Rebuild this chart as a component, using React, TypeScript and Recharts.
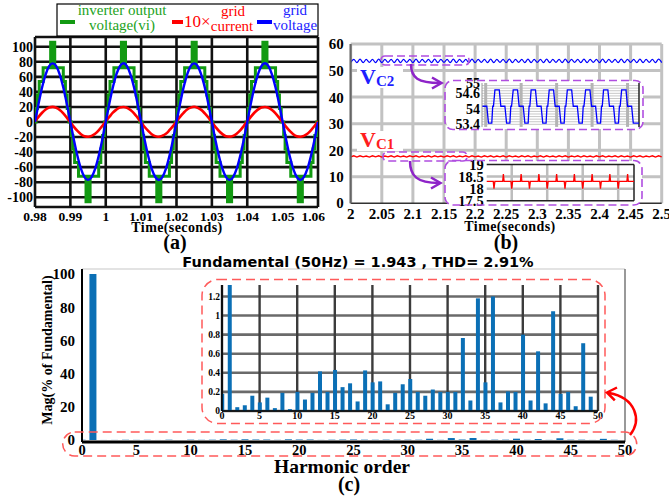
import React from "react";
import {
  LineChart,
  Line,
  BarChart,
  Bar,
  XAxis,
  YAxis,
  CartesianGrid,
  ReferenceArea,
  ReferenceLine,
} from "recharts";

const SERIF = "'Liberation Serif', 'Times New Roman', serif";
const SANS = "'DejaVu Sans', Verdana, sans-serif";
const GREEN = "#129a12";
const RED = "#ff0000";
const BLUE = "#0000ff";
const PURPLE = "#b04ee0";
const ARROW_PURPLE = "#8e24c8";
const BAR_BLUE = "#0b6fb5";

// ---------- (a) inverter output / grid waveforms ----------
const timeA = [
  0.98, 0.981, 0.982, 0.983, 0.984, 0.985, 0.986, 0.987, 0.988, 0.989,
  0.99, 0.991, 0.992, 0.993, 0.994, 0.995, 0.996, 0.997, 0.998, 0.999,
  1, 1.001, 1.002, 1.003, 1.004, 1.005, 1.006, 1.007, 1.008, 1.009,
  1.01, 1.011, 1.012, 1.013, 1.014, 1.015, 1.016, 1.017, 1.018, 1.019,
  1.02, 1.021, 1.022, 1.023, 1.024, 1.025, 1.026, 1.027, 1.028, 1.029,
  1.03, 1.031, 1.032, 1.033, 1.034, 1.035, 1.036, 1.037, 1.038, 1.039,
  1.04, 1.041, 1.042, 1.043, 1.044, 1.045, 1.046, 1.047, 1.048, 1.049,
  1.05, 1.051, 1.052, 1.053, 1.054, 1.055, 1.056, 1.057, 1.058, 1.059,
  1.06,
];
const gridVoltage = [
  0, 24.1, 45.9, 63.1, 74.2, 78, 74.2, 63.1, 45.9, 24.1,
  0, -23.8, -45.3, -62.3, -73.2, -77, -73.2, -62.3, -45.3, -23.8,
  0.3, 24.2, 45.8, 63.2, 74.1, 78.1, 74.3, 63, 45.8, 24,
  0.1, -23.9, -45.2, -62.4, -73.1, -77.1, -73.3, -62.2, -45.4, -23.7,
  0.2, 24.1, 46, 63.1, 74.2, 78, 74.1, 63.1, 45.9, 24.2,
  0, -23.8, -45.3, -62.3, -73.2, -77, -73.2, -62.4, -45.2, -23.8,
  0.1, 24.2, 45.9, 63, 74.3, 78.1, 74.2, 63.1, 45.8, 24.1,
  0.2, -23.7, -45.4, -62.3, -73.1, -77.1, -73.2, -62.3, -45.3, -23.9,
  0,
];
const gridCurrent10x = [
  0.8, 6.9, 12.3, 16.6, 19.2, 20.1, 18.9, 16.0, 11.5, 5.8,
  -0.4, -6.5, -11.9, -16.2, -18.9, -19.6, -18.4, -15.6, -11.0, -5.4,
  0.9, 6.7, 12.4, 16.5, 19.3, 20.0, 19.0, 15.9, 11.6, 5.7,
  -0.3, -6.6, -11.8, -16.3, -18.8, -19.7, -18.3, -15.7, -10.9, -5.5,
  0.7, 6.8, 12.2, 16.7, 19.1, 20.2, 18.8, 16.1, 11.4, 5.9,
  -0.5, -6.4, -12.0, -16.1, -19.0, -19.5, -18.5, -15.5, -11.1, -5.3,
  0.8, 6.9, 12.3, 16.5, 19.2, 20.0, 19.0, 15.9, 11.5, 5.8,
  -0.4, -6.5, -11.9, -16.2, -18.9, -19.6, -18.4, -15.6, -11.0, -5.4,
  0.8,
];
// staircase of the multilevel output (switch instants and levels)
const stairTime = [
  0.98, 0.9803, 0.9807, 0.9812, 0.9823, 0.988, 0.9886, 0.9891, 0.9896,
  0.9903, 0.9907, 0.9912, 0.9923, 0.998, 0.9986, 0.9991, 0.9996,
  1.0003, 1.0007, 1.0012, 1.0023, 1.008, 1.0086, 1.0091, 1.0096,
  1.0103, 1.0107, 1.0112, 1.0123, 1.018, 1.0186, 1.0191, 1.0196,
  1.0203, 1.0207, 1.0212, 1.0223, 1.028, 1.0286, 1.0291, 1.0296,
  1.0303, 1.0307, 1.0312, 1.0323, 1.038, 1.0386, 1.0391, 1.0396,
  1.0403, 1.0407, 1.0412, 1.0423, 1.048, 1.0486, 1.0491, 1.0496,
  1.0503, 1.0507, 1.0512, 1.0523, 1.058, 1.0586, 1.0591, 1.0596,
  1.06,
];
const stairLevel = [
  0, 18, 36, 54, 72, 54, 36, 18, 0,
  -18, -36, -54, -72, -54, -36, -18, 0,
  18, 36, 54, 72, 54, 36, 18, 0,
  -18, -36, -54, -72, -54, -36, -18, 0,
  18, 36, 54, 72, 54, 36, 18, 0,
  -18, -36, -54, -72, -54, -36, -18, 0,
  18, 36, 54, 72, 54, 36, 18, 0,
  -18, -36, -54, -72, -54, -36, -18, 0,
  0,
];
// PWM bands at the crest of each half cycle
const pwmFrom = [0.984, 0.994, 1.004, 1.014, 1.024, 1.034, 1.044, 1.054];
const pwmTo = [0.986, 0.996, 1.006, 1.016, 1.026, 1.036, 1.046, 1.056];
const pwmLow = [72, -72, 72, -72, 72, -72, 72, -72];
const pwmHigh = [108, -108, 108, -108, 108, -108, 108, -108];
const timeTicksA = [0.98, 0.99, 1, 1.01, 1.02, 1.03, 1.04, 1.05, 1.06];
const voltTicksA = [-100, -80, -60, -40, -20, 0, 20, 40, 60, 80, 100];

// ---------- (b) capacitor voltages ----------
const timeB = [
  2, 2.005, 2.01, 2.015, 2.02, 2.025, 2.03, 2.035, 2.04, 2.045,
  2.05, 2.055, 2.06, 2.065, 2.07, 2.075, 2.08, 2.085, 2.09, 2.095,
  2.1, 2.105, 2.11, 2.115, 2.12, 2.125, 2.13, 2.135, 2.14, 2.145,
  2.15, 2.155, 2.16, 2.165, 2.17, 2.175, 2.18, 2.185, 2.19, 2.195,
  2.2, 2.205, 2.21, 2.215, 2.22, 2.225, 2.23, 2.235, 2.24, 2.245,
  2.25, 2.255, 2.26, 2.265, 2.27, 2.275, 2.28, 2.285, 2.29, 2.295,
  2.3, 2.305, 2.31, 2.315, 2.32, 2.325, 2.33, 2.335, 2.34, 2.345,
  2.35, 2.355, 2.36, 2.365, 2.37, 2.375, 2.38, 2.385, 2.39, 2.395,
  2.4, 2.405, 2.41, 2.415, 2.42, 2.425, 2.43, 2.435, 2.44, 2.445,
  2.45, 2.455, 2.46, 2.465, 2.47, 2.475, 2.48, 2.485, 2.49, 2.495,
  2.5,
];
const vc2 = [
  53.1, 54.2, 53.0, 54.3, 53.0, 54.2, 53.1, 54.2, 53.0, 54.3,
  53.0, 54.2, 53.1, 54.2, 53.0, 54.3, 53.0, 54.2, 53.1, 54.2,
  53.0, 54.3, 53.0, 54.2, 53.1, 54.2, 53.0, 54.3, 53.0, 54.2,
  53.1, 54.2, 53.0, 54.3, 53.0, 54.2, 53.1, 54.2, 53.0, 54.3,
  53.0, 54.2, 53.1, 54.2, 53.0, 54.3, 53.0, 54.2, 53.1, 54.2,
  53.0, 54.3, 53.0, 54.2, 53.1, 54.2, 53.0, 54.3, 53.0, 54.2,
  53.1, 54.2, 53.0, 54.3, 53.0, 54.2, 53.1, 54.2, 53.0, 54.3,
  53.0, 54.2, 53.1, 54.2, 53.0, 54.3, 53.0, 54.2, 53.1, 54.2,
  53.0, 54.3, 53.0, 54.2, 53.1, 54.2, 53.0, 54.3, 53.0, 54.2,
  53.1, 54.2, 53.0, 54.3, 53.0, 54.2, 53.1, 54.2, 53.0, 54.3,
  53.0,
];
const vc1 = [
  17.5, 17.9, 17.4, 17.9, 17.5, 17.8, 17.4, 17.9, 17.5, 17.9,
  17.4, 17.8, 17.5, 17.9, 17.4, 17.9, 17.5, 17.8, 17.4, 17.9,
  17.5, 17.9, 17.4, 17.8, 17.5, 17.9, 17.4, 17.9, 17.5, 17.8,
  17.4, 17.9, 17.5, 17.9, 17.4, 17.8, 17.5, 17.9, 17.4, 17.9,
  17.5, 17.8, 17.4, 17.9, 17.5, 17.9, 17.4, 17.8, 17.5, 17.9,
  17.4, 17.9, 17.5, 17.8, 17.4, 17.9, 17.5, 17.9, 17.4, 17.8,
  17.5, 17.9, 17.4, 17.9, 17.5, 17.8, 17.4, 17.9, 17.5, 17.9,
  17.4, 17.8, 17.5, 17.9, 17.4, 17.9, 17.5, 17.8, 17.4, 17.9,
  17.5, 17.9, 17.4, 17.8, 17.5, 17.9, 17.4, 17.9, 17.5, 17.8,
  17.4, 17.9, 17.5, 17.9, 17.4, 17.8, 17.5, 17.9, 17.4, 17.9,
  17.5,
];
const timeTicksB = [2, 2.05, 2.1, 2.15, 2.2, 2.25, 2.3, 2.35, 2.4, 2.45, 2.5];
const capTicksB = [10, 20, 30, 40, 50, 60];
const capBase = 0;

// zoomed VC2 ripple (time in ms inside the zoom window)
const vc2ZoomTime = [
  0, 2.6, 3.5, 5.3, 5.8, 6.2,
  7.0, 9.35, 10.2, 12.4, 13.3, 15.1, 15.6, 16.0,
  16.9, 19.25, 20.1, 22.3, 23.2, 25.0, 25.5, 25.9,
  26.6, 28.95, 29.8, 32.0, 32.9, 34.7, 35.2, 35.6,
  36.4, 38.75, 39.6, 41.8, 42.7, 44.5, 45.0, 45.4,
  46.2, 48.55, 49.4, 51.6, 52.5, 54.3, 54.8, 55.2,
  56.1, 58.45, 59.3, 61.5, 62.4, 64.2, 64.7, 65.1,
  65.8, 68.15, 69.0, 71.2, 72.1, 73.9, 74.4, 74.8,
  75.6, 77.95, 78.8, 81.0, 81.9, 85,
];
const vc2ZoomValue = [
  54.1, 54.1, 53.45, 53.45, 54.1, 54.1,
  54.73, 54.73, 54.1, 54.1, 53.45, 53.45, 54.1, 54.1,
  54.73, 54.73, 54.1, 54.1, 53.45, 53.45, 54.1, 54.1,
  54.73, 54.73, 54.1, 54.1, 53.45, 53.45, 54.1, 54.1,
  54.73, 54.73, 54.1, 54.1, 53.45, 53.45, 54.1, 54.1,
  54.73, 54.73, 54.1, 54.1, 53.45, 53.45, 54.1, 54.1,
  54.73, 54.73, 54.1, 54.1, 53.45, 53.45, 54.1, 54.1,
  54.73, 54.73, 54.1, 54.1, 53.45, 53.45, 54.1, 54.1,
  54.73, 54.73, 54.1, 54.1, 53.45, 53.45,
];
const vc2ZoomTicks = [53.4, 54, 54.6, 55];
const vc2ZoomFineGrid = [
  53.4, 53.5, 53.6, 53.7, 53.8, 53.9, 54, 54.1, 54.2, 54.3, 54.4, 54.5, 54.6, 54.7, 54.8, 54.9,
];
const vc2ZoomBars = [2, 11.6, 21.2, 30.8, 40.4, 50, 59.6, 69.2, 78.8];

// zoomed VC1 ripple
const vc1ZoomTime = [
  0,
  3.7, 4.1, 4.6, 9.0, 9.4, 9.8,
  13.7, 14.1, 14.6, 19.0, 19.4, 19.8,
  23.7, 24.1, 24.6, 29.0, 29.4, 29.8,
  33.7, 34.1, 34.6, 39.0, 39.4, 39.8,
  43.7, 44.1, 44.6, 49.0, 49.4, 49.8,
  53.7, 54.1, 54.6, 59.0, 59.4, 59.8,
  63.7, 64.1, 64.6, 69.0, 69.4, 69.8,
  73.7, 74.1, 74.6, 79.0, 79.4, 79.8,
  83,
];
const vc1ZoomValue = [
  18.3,
  18.3, 18.0, 18.3, 18.3, 18.6, 18.3,
  18.3, 18.0, 18.3, 18.3, 18.6, 18.3,
  18.3, 18.0, 18.3, 18.3, 18.6, 18.3,
  18.3, 18.0, 18.3, 18.3, 18.6, 18.3,
  18.3, 18.0, 18.3, 18.3, 18.6, 18.3,
  18.3, 18.0, 18.3, 18.3, 18.6, 18.3,
  18.3, 18.0, 18.3, 18.3, 18.6, 18.3,
  18.3, 18.0, 18.3, 18.3, 18.6, 18.3,
  18.3,
];
const vc1ZoomTicks = [17.5, 18, 18.5, 19];
const vc1ZoomBars = [4.1, 14.1, 24.1, 34.1, 44.1, 54.1, 64.1, 74.1];

// ---------- (c) harmonic spectrum ----------
const harmonicOrder = [
  0, 1, 2, 3, 4, 5, 6, 7, 8, 9,
  10, 11, 12, 13, 14, 15, 16, 17, 18, 19,
  20, 21, 22, 23, 24, 25, 26, 27, 28, 29,
  30, 31, 32, 33, 34, 35, 36, 37, 38, 39,
  40, 41, 42, 43, 44, 45, 46, 47, 48, 49,
];
const harmonicMag = [
  0.18, 100, 0.04, 0.06, 0.16, 0.09, 0.14, 0.03, 0.19, 0.02,
  0.2, 0.12, 0.19, 0.415, 0.2, 0.43, 0.25, 0.29, 0.1, 0.425,
  0.3, 0.31, 0.07, 0.19, 0.28, 0.335, 0.2, 0.16, 0.225, 0.2,
  0.2, 0.2, 0.765, 0.11, 1.18, 0.3, 1.2, 0.09, 0.205, 0.2,
  0.8, 0.11, 0.625, 0.08, 1.045, 0.18, 0.2, 0.05, 0.71, 0.15,
];
const orderTicks = [0, 5, 10, 15, 20, 25, 30, 35, 40, 45, 50];
const magTicks = [0, 20, 40, 60, 80, 100];
const zoomMagTicks = [0, 0.2, 0.4, 0.6, 0.8, 1, 1.2];

// rows for the library
const waveRows = timeA.map((t, i) => ({ t, vg: gridVoltage[i], ig: gridCurrent10x[i] }));
const stairRows = stairTime.map((t, i) => ({ t, v: stairLevel[i] }));
const capRows = timeB.map((t, i) => ({ t, vc2: vc2[i], vc1: vc1[i] }));
const vc2ZoomRows = vc2ZoomTime.map((t, i) => ({ t, v: vc2ZoomValue[i] }));
const vc1ZoomRows = vc1ZoomTime.map((t, i) => ({ t, v: vc1ZoomValue[i] }));
const spectrumRows = harmonicOrder.map((h, i) => ({ h, mag: harmonicMag[i] }));

const boldTick = (size: number) => ({
  fill: "#000",
  fontSize: size,
  fontFamily: SERIF,
  fontWeight: 700,
});

// plain svg tick label, right aligned against a y axis
function ValueTick(props: any) {
  const { x, y, payload, size } = props;
  return (
    <text
      x={x}
      y={y}
      dy="0.36em"
      textAnchor="end"
      fill="#000"
      fontFamily={SERIF}
      fontWeight={700}
      fontSize={size}
    >
      {String(payload.value)}
    </text>
  );
}

function box(left: number, top: number, extra: React.CSSProperties = {}): React.CSSProperties {
  return { position: "absolute", left, top, ...extra };
}

function WaveformPanel() {
  return (
    <div style={box(0, 0)}>
      <LineChart width={325} height={250} margin={{ top: 37, right: 7, bottom: 0, left: 0 }}>
        <CartesianGrid
          stroke="#111"
          strokeWidth={2.6}
          horizontalValues={[-113, ...voltTicksA, 113]}
          verticalValues={timeTicksA}
        />
        <XAxis
          type="number"
          dataKey="t"
          domain={[0.98, 1.06]}
          ticks={timeTicksA}
          height={43}
          axisLine={false}
          tickLine={false}
          tickSize={0}
          tickMargin={4}
          tick={boldTick(13.5)}
          tickFormatter={(v) => String(v)}
          allowDataOverflow
        />
        <YAxis
          type="number"
          domain={[-113, 113]}
          ticks={voltTicksA}
          width={35}
          axisLine={false}
          tickLine={false}
          tickSize={0}
          tickMargin={2}
          tick={boldTick(14)}
          interval={0}
        />
        {pwmFrom.map((x1, i) => (
          <ReferenceArea
            key={i}
            x1={x1}
            x2={pwmTo[i]}
            y1={pwmLow[i]}
            y2={pwmHigh[i]}
            fill={GREEN}
            fillOpacity={1}
            stroke="none"
          />
        ))}
        <Line
          data={stairRows}
          dataKey="v"
          type="stepAfter"
          stroke={GREEN}
          strokeWidth={3}
          dot={false}
          isAnimationActive={false}
        />
        <Line
          data={waveRows}
          dataKey="ig"
          type="monotone"
          stroke={RED}
          strokeWidth={2.6}
          dot={false}
          isAnimationActive={false}
        />
        <Line
          data={waveRows}
          dataKey="vg"
          type="monotone"
          stroke={BLUE}
          strokeWidth={2.4}
          dot={false}
          isAnimationActive={false}
        />
      </LineChart>
    </div>
  );
}

function CapacitorPanel() {
  return (
    <div style={box(320, 30)}>
      <LineChart width={349} height={220} data={capRows} margin={{ top: 14, right: 7.3, bottom: 0, left: 0 }}>
        <CartesianGrid stroke="#c2c2c2" strokeWidth={3} verticalValues={timeTicksB} horizontalValues={capTicksB} />
        <XAxis
          type="number"
          dataKey="t"
          domain={[2, 2.5]}
          ticks={timeTicksB}
          height={46.7}
          axisLine={{ stroke: "#333", strokeWidth: 1.5 }}
          tickLine={false}
          tickSize={0}
          tickMargin={5}
          tick={boldTick(15)}
          tickFormatter={(v) => String(v)}
          interval={0}
        />
        <YAxis
          type="number"
          domain={[0, 60]}
          ticks={capTicksB}
          width={30.7}
          axisLine={{ stroke: "#666", strokeWidth: 2 }}
          tickLine={false}
          tickSize={0}
          tickMargin={7}
          tick={(p: any) => <ValueTick {...p} size={15} />}
          interval={0}
          label={{
            value: String(capBase),
            position: "insideBottomRight",
            offset: 7,
            dy: 12,
            fill: "#000",
            fontSize: 15,
            fontFamily: SERIF,
            fontWeight: 700,
          }}
        />
        <Line dataKey="vc2" type="monotone" stroke={BLUE} strokeWidth={1.2} dot={false} isAnimationActive={false} />
        <Line dataKey="vc1" type="linear" stroke={RED} strokeWidth={1.4} dot={false} isAnimationActive={false} />
      </LineChart>
    </div>
  );
}

function Vc2Zoom() {
  return (
    <>
      <div style={box(446, 81, { width: 197, height: 48, background: "#fff", borderRadius: 8 })} />
      <div style={box(446, 74)}>
        <LineChart width={197} height={62} data={vc2ZoomRows} margin={{ top: 9, right: 4, bottom: 9.1, left: 0 }}>
          <CartesianGrid stroke="#c8c8c8" strokeWidth={1} vertical={false} horizontalValues={vc2ZoomFineGrid} />
          <CartesianGrid stroke="#b4b4b4" strokeWidth={3} horizontal={false} verticalValues={vc2ZoomBars} />
          <XAxis type="number" dataKey="t" domain={[0, 85]} hide height={0} />
          <YAxis
            type="number"
            domain={[53.3, 55]}
            ticks={vc2ZoomTicks}
            width={36}
            axisLine={{ stroke: "#999" }}
            tickLine={false}
            tickSize={0}
            tickMargin={2}
            tick={boldTick(14)}
            interval={0}
          />
          <ReferenceLine x={85} stroke="#222" strokeWidth={1.5} />
          <Line dataKey="v" type="linear" stroke={BLUE} strokeWidth={1.3} dot={false} isAnimationActive={false} />
        </LineChart>
      </div>
    </>
  );
}

function Vc1Zoom() {
  return (
    <>
      <div style={box(445, 161, { width: 197, height: 44, background: "#fff", borderRadius: 8 })} />
      <div style={box(445, 154)}>
        <LineChart width={197} height={57} data={vc1ZoomRows} margin={{ top: 10.5, right: 8, bottom: 10.3, left: 0 }}>
          <CartesianGrid stroke="#bdbdbd" strokeWidth={2.5} horizontalValues={[18, 18.5]} verticalValues={vc1ZoomBars} />
          <XAxis type="number" dataKey="t" domain={[0, 83]} hide height={0} />
          <YAxis
            type="number"
            domain={[17.5, 19]}
            ticks={vc1ZoomTicks}
            width={41.7}
            axisLine={false}
            tickLine={false}
            tickSize={0}
            tickMargin={3}
            tick={boldTick(14.5)}
            interval={0}
          />
          <ReferenceLine y={19} stroke="#222" strokeWidth={1.5} />
          <ReferenceLine y={17.5} stroke="#222" strokeWidth={1.5} />
          <ReferenceLine x={83} stroke="#222" strokeWidth={1.5} />
          <Line dataKey="v" type="linear" stroke={RED} strokeWidth={1.3} dot={false} isAnimationActive={false} />
        </LineChart>
      </div>
    </>
  );
}

function SpectrumPanel() {
  return (
    <div style={box(0, 250)}>
      <BarChart width={669} height={249} data={spectrumRows} margin={{ top: 19, right: 44, bottom: 0, left: 0 }}>
        <XAxis
          type="number"
          dataKey="h"
          domain={[0, 50]}
          ticks={orderTicks}
          height={57}
          axisLine={{ stroke: "#000", strokeWidth: 3 }}
          tickLine={false}
          tickSize={0}
          tickMargin={3}
          tick={boldTick(14.5)}
          interval={0}
          allowDataOverflow
        />
        <YAxis
          type="number"
          domain={[-1.2, 103]}
          ticks={magTicks}
          width={82}
          axisLine={{ stroke: "#000", strokeWidth: 2 }}
          tickLine={false}
          tickSize={0}
          tickMargin={7}
          tick={(p: any) => <ValueTick {...p} size={15} />}
          interval={0}
          allowDataOverflow
        />
        <ReferenceLine y={103} stroke="#c8c8c8" strokeWidth={1.2} />
        <ReferenceLine x={50} stroke="#777" strokeWidth={1.5} />
        <Bar dataKey="mag" fill={BAR_BLUE} barSize={7} isAnimationActive={false} />
      </BarChart>
    </div>
  );
}

function SpectrumZoom() {
  return (
    <div style={box(202, 280, { background: "#fff", borderRadius: 15 })}>
      <BarChart width={403} height={143} data={spectrumRows} margin={{ top: 5, right: 7, bottom: 0, left: 0 }}>
        <CartesianGrid stroke="#6a6a6a" strokeWidth={2.6} vertical={false} horizontalValues={zoomMagTicks} />
        <CartesianGrid stroke="#3c3c3c" strokeWidth={2.4} horizontal={false} verticalValues={orderTicks} />
        <XAxis
          type="number"
          dataKey="h"
          domain={[0, 50]}
          ticks={orderTicks}
          height={12}
          axisLine={{ stroke: "#000", strokeWidth: 1.5 }}
          tickLine={false}
          tickSize={0}
          tickMargin={1}
          tick={boldTick(10)}
          interval={0}
          allowDataOverflow
        />
        <YAxis
          type="number"
          domain={[0, 1.32]}
          ticks={zoomMagTicks}
          width={20}
          axisLine={{ stroke: "#000", strokeWidth: 1.5 }}
          tickLine={false}
          tickSize={0}
          tickMargin={2}
          tick={boldTick(9.5)}
          interval={0}
          allowDataOverflow
        />
        <Bar dataKey="mag" fill={BAR_BLUE} barSize={4} isAnimationActive={false} />
      </BarChart>
    </div>
  );
}

function Annotations() {
  const dashedPurple = { fill: "none", stroke: PURPLE, strokeWidth: 1.6, strokeDasharray: "8 4" };
  const dashedRed = { fill: "none", stroke: "#ff5a5a", strokeWidth: 1.5, strokeDasharray: "9 5" };
  const serifBold = { fontFamily: SERIF, fontWeight: 700 };
  return (
    <svg width={669} height={499} style={{ position: "absolute", left: 0, top: 0, pointerEvents: "none" }}>
      {/* legend of (a) */}
      <rect x={57} y={4} width={261} height={32} fill="#fff" stroke="#000" strokeWidth={1.2} />
      <line x1={60} x2={75} y1={22} y2={22} stroke={GREEN} strokeWidth={4} />
      <text x={122} y={15} fill="#22a322" fontFamily={SERIF} fontSize={15} textAnchor="middle">
        inverter output
      </text>
      <text x={122} y={30} fill="#22a322" fontFamily={SERIF} fontSize={15} textAnchor="middle">
        voltage(vi)
      </text>
      <line x1={172} x2={183} y1={22} y2={22} stroke={RED} strokeWidth={4} />
      <text x={184} y={27} fill={RED} fontFamily={SERIF} fontSize={17}>
        10×
      </text>
      <text x={233} y={16} fill={RED} fontFamily={SERIF} fontSize={15} textAnchor="middle">
        grid
      </text>
      <text x={232} y={31} fill={RED} fontFamily={SERIF} fontSize={15} textAnchor="middle">
        current
      </text>
      <line x1={257} x2={272} y1={22} y2={22} stroke={BLUE} strokeWidth={4} />
      <text x={295} y={15} fill="#2222ff" fontFamily={SERIF} fontSize={15} textAnchor="middle">
        grid
      </text>
      <text x={295} y={30} fill="#2222ff" fontFamily={SERIF} fontSize={15} textAnchor="middle">
        voltage
      </text>

      {/* axis titles and panel tags */}
      <text x={177} y={232} fontSize={14} letterSpacing={0.4} textAnchor="middle" {...serifBold}>
        Time(seconds)
      </text>
      <text x={175} y={249} fontSize={20} textAnchor="middle" {...serifBold}>
        (a)
      </text>
      <text x={510} y={231} fontSize={14} letterSpacing={0.4} textAnchor="middle" {...serifBold}>
        Time(seconds)
      </text>
      <text x={506} y={249} fontSize={20} textAnchor="middle" {...serifBold}>
        (b)
      </text>

      {/* capacitor labels */}
      <rect x={357} y={67} width={46} height={21} fill="#fff" />
      <text x={360} y={84} fill="#1e1eff" {...serifBold}>
        <tspan fontSize={22}>V</tspan>
        <tspan fontSize={15} dy={2}>C2</tspan>
      </text>
      <rect x={357} y={131} width={46} height={20} fill="#fff" />
      <text x={360} y={147} fill="#ff1e1e" {...serifBold}>
        <tspan fontSize={22}>V</tspan>
        <tspan fontSize={15} dy={2}>C1</tspan>
      </text>

      {/* zoom windows of (b) */}
      <rect x={381} y={56} width={88} height={9} rx={4} {...dashedPurple} />
      <rect x={383} y={152} width={84} height={9} rx={4} {...dashedPurple} />
      <rect x={445} y={80.5} width={198} height={49} rx={8} {...dashedPurple} />
      <rect x={445} y={160.5} width={197} height={44.5} rx={8} {...dashedPurple} />
      <path d="M411 64 C 411 78, 418 83, 440 83" fill="none" stroke={ARROW_PURPLE} strokeWidth={2.5} />
      <polyline points="432,77.5 441.5,83 432,88.5" fill="none" stroke={ARROW_PURPLE} strokeWidth={2.5} />
      <path d="M410 161 C 410 176, 417 183, 439 183" fill="none" stroke={ARROW_PURPLE} strokeWidth={2.5} />
      <polyline points="431,177.5 440.5,183 431,188.5" fill="none" stroke={ARROW_PURPLE} strokeWidth={2.5} />

      {/* (c) titles */}
      <text x={358} y={267} fontFamily={SANS} fontWeight={700} fontSize={14.5} textAnchor="middle">
        Fundamental (50Hz) = 1.943 , THD= 2.91%
      </text>
      <text x={342} y={473} fontSize={19.5} textAnchor="middle" {...serifBold}>
        Harmonic order
      </text>
      <text x={349} y={491} fontSize={20} textAnchor="middle" {...serifBold}>
        (c)
      </text>
      <text
        x={52}
        y={350}
        fontSize={14}
        textAnchor="middle"
        transform="rotate(-90 52 350)"
        {...serifBold}
      >
        Mag(% of Fundamental)
      </text>

      {/* zoom window of (c) */}
      <rect x={62.7} y={432} width={574} height={24} rx={12} {...dashedRed} />
      <rect x={202} y={279.5} width={403} height={144} rx={16} {...dashedRed} />
      <path d="M630 435 C 642 420, 636 398, 609 393" fill="none" stroke={RED} strokeWidth={2.5} />
      <polyline points="617,387.5 607,392.5 614.8,400.3" fill="none" stroke={RED} strokeWidth={2.5} />
    </svg>
  );
}

export default function App() {
  return (
    <div
      style={{
        position: "absolute",
        left: 0,
        top: 0,
        width: 669,
        height: 499,
        background: "#fff",
        overflow: "hidden",
      }}
    >
      <WaveformPanel />
      <CapacitorPanel />
      <Vc2Zoom />
      <Vc1Zoom />
      <SpectrumPanel />
      <SpectrumZoom />
      <Annotations />
    </div>
  );
}
